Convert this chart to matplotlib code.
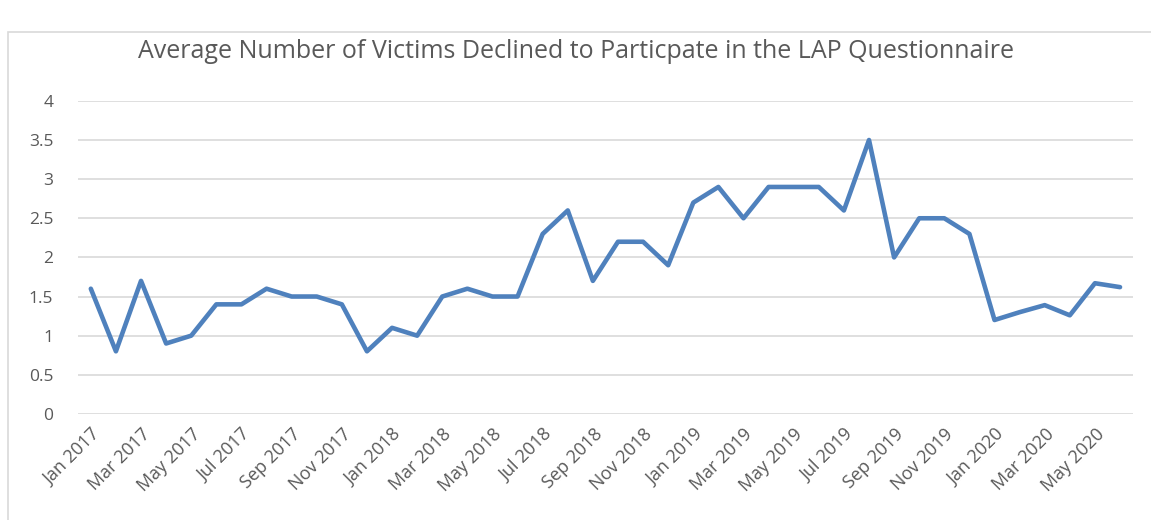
import matplotlib
matplotlib.use('Agg')
import matplotlib.pyplot as plt
from matplotlib.patches import Rectangle

months = ['Jan', 'Feb', 'Mar', 'Apr', 'May', 'Jun', 'Jul', 'Aug', 'Sep', 'Oct', 'Nov', 'Dec']
labels = [f'{m} {y}' for y in (2017, 2018, 2019) for m in months] + \
         [f'{m} 2020' for m in months[:6]]

values_2017 = [1.6, 0.8, 1.7, 0.9, 1.0, 1.4, 1.4, 1.6, 1.5, 1.5, 1.4, 0.8]
values_2018 = [1.1, 1.0, 1.5, 1.6, 1.5, 1.5, 2.3, 2.6, 1.7, 2.2, 2.2, 1.9]
values_2019 = [2.7, 2.9, 2.5, 2.9, 2.9, 2.9, 2.6, 3.5, 2.0, 2.5, 2.5, 2.3]
values_2020 = [1.2, 1.3, 1.39, 1.26, 1.67, 1.62]
values = values_2017 + values_2018 + values_2019 + values_2020

plt.rcParams['font.family'] = ['Open Sans', 'DejaVu Sans']
text_color = '#595959'

fig = plt.figure(figsize=(11.51, 5.2), dpi=100)
fig.patches.append(Rectangle((0.007, -0.01), 1.0, 0.949, transform=fig.transFigure,
                             fill=False, edgecolor='#d9d9d9', linewidth=1.2))
ax = fig.add_axes([0.068, 0.204, 0.916, 0.602])

x = list(range(len(values)))
ax.plot(x, values, color='#4f81bd', linewidth=3.3, solid_joinstyle='round',
        solid_capstyle='round', zorder=3)

ax.set_xlim(-0.5, len(values) - 0.5)
ax.set_ylim(0, 4)
ax.set_yticks([0, 0.5, 1, 1.5, 2, 2.5, 3, 3.5, 4])
ax.set_yticklabels(['0', '0.5', '1', '1.5', '2', '2.5', '3', '3.5', '4'])
ax.set_xticks(x[::2])
ax.set_xticklabels(labels[::2], rotation=45, ha='right', rotation_mode='anchor')
ax.grid(axis='y', color='#d9d9d9', linewidth=1.2)
ax.set_axisbelow(True)
for s in ax.spines.values():
    s.set_visible(False)
ax.tick_params(axis='both', length=0, colors=text_color)
ax.tick_params(axis='y', pad=18, labelsize=12.5)
ax.tick_params(axis='x', pad=8, labelsize=13)

fig.text(0.5, 0.9, 'Average Number of Victims Declined to Particpate in the LAP Questionnaire',
         ha='center', va='center', fontsize=18, color=text_color)

plt.savefig('out.png', dpi=100)
